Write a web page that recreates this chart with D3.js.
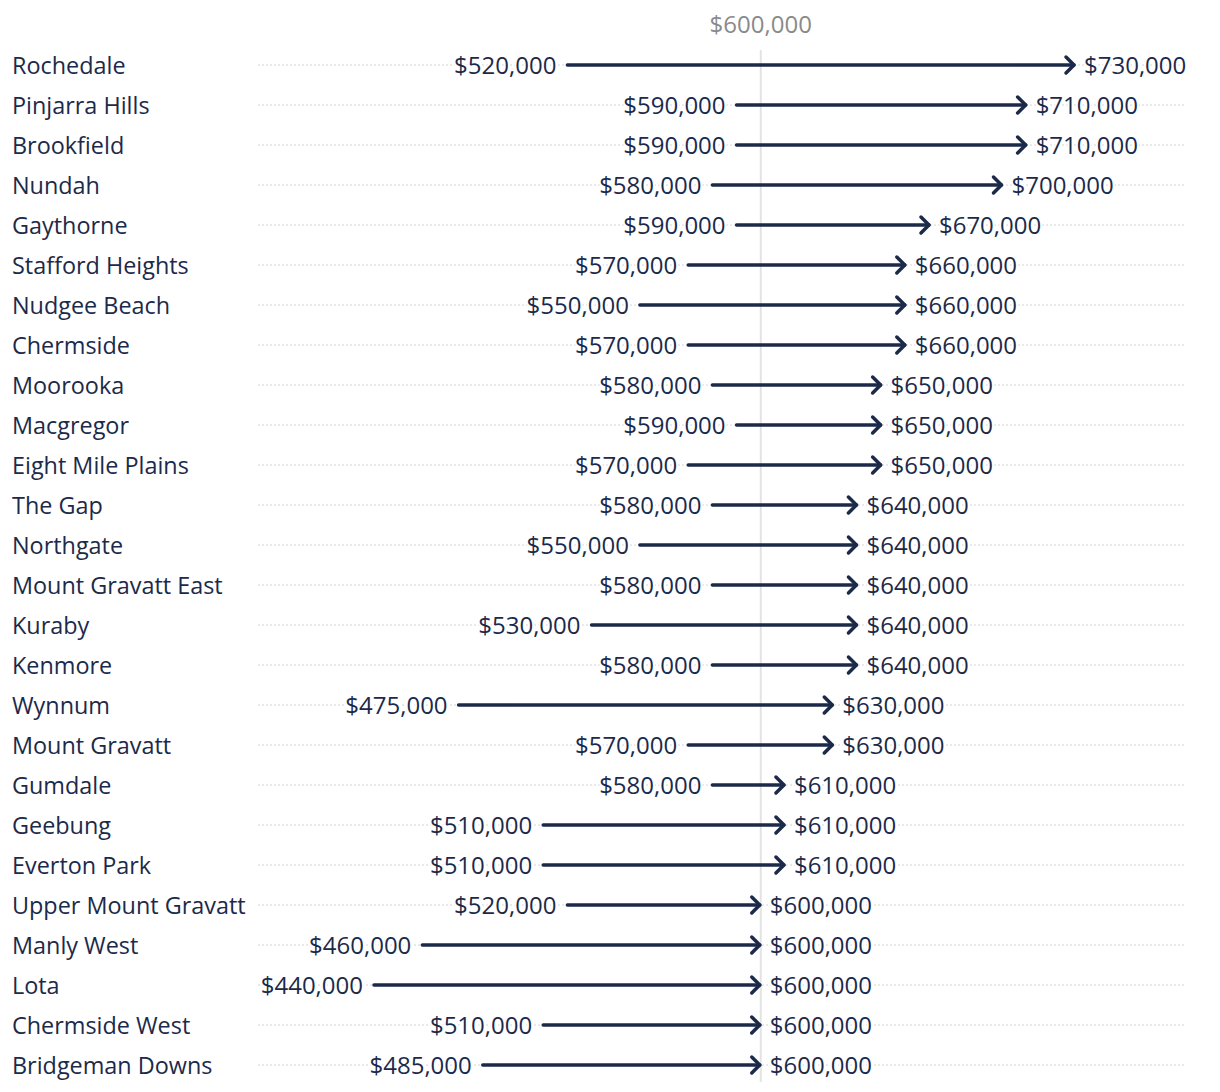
<!DOCTYPE html>
<html><head><meta charset="utf-8">
<script src="https://cdn.jsdelivr.net/npm/d3@7"></script>
<style>body{margin:0;background:#fff}svg{display:block}</style>
</head><body><svg id="c" width="1220" height="1092"></svg>
<script>
const suburbs = ["Rochedale","Pinjarra Hills","Brookfield","Nundah","Gaythorne","Stafford Heights","Nudgee Beach","Chermside","Moorooka","Macgregor","Eight Mile Plains","The Gap","Northgate","Mount Gravatt East","Kuraby","Kenmore","Wynnum","Mount Gravatt","Gumdale","Geebung","Everton Park","Upper Mount Gravatt","Manly West","Lota","Chermside West","Bridgeman Downs"];
const fromValues = [520000,590000,590000,580000,590000,570000,550000,570000,580000,590000,570000,580000,550000,580000,530000,580000,475000,570000,580000,510000,510000,520000,460000,440000,510000,485000];
const toValues = [730000,710000,710000,700000,670000,660000,660000,660000,650000,650000,650000,640000,640000,640000,640000,640000,630000,630000,610000,610000,610000,600000,600000,600000,600000,600000];
const refValue = 600000;

const data = suburbs.map((s,i)=>({name:s, from:fromValues[i], to:toValues[i]}));
const svg = d3.select("#c");
const font = "'Open Sans', sans-serif";
const navy = "#1c2a4a";
const x = d3.scaleLinear().domain([440000, 730000]).range([374, 1075]);
const y = d3.scalePoint().domain(suburbs).range([65, 1065]);
const fmt = v => "$" + d3.format(",")(v);

// gridlines
svg.append("g").selectAll("line").data(data).join("line")
  .attr("x1", 258).attr("x2", 1186)
  .attr("y1", d=>y(d.name)).attr("y2", d=>y(d.name))
  .attr("stroke", "#d4d4d4").attr("stroke-width", 1).attr("stroke-dasharray", "2,2");

// reference line
svg.append("line").attr("x1", x(refValue)).attr("x2", x(refValue)).attr("y1", 50).attr("y2", 1082)
  .attr("stroke", "#e3e3e3").attr("stroke-width", 2);
svg.append("text").attr("x", x(refValue)).attr("y", 33).attr("text-anchor","middle")
  .attr("font-family", font).attr("font-size", 24).attr("fill", "#8a8a8a").text(fmt(refValue));

// category labels
svg.append("g").selectAll("text").data(data).join("text")
  .attr("x", 12).attr("y", d=>y(d.name)+1).attr("dy", "0.35em")
  .attr("font-family", font).attr("font-size", 23.4).attr("fill", navy).text(d=>d.name);

// arrows
const g = svg.append("g");
g.selectAll("line.a").data(data).join("line").attr("class","a")
  .attr("x1", d=>x(d.from)).attr("x2", d=>x(d.to)-1)
  .attr("y1", d=>y(d.name)).attr("y2", d=>y(d.name))
  .attr("stroke", navy).attr("stroke-width", 3.5).attr("stroke-linecap","round");
g.selectAll("path.h").data(data).join("path").attr("class","h")
  .attr("d", d=>{const tx=x(d.to)-1, ty=y(d.name); return `M${tx-8},${ty-8}L${tx},${ty}L${tx-8},${ty+8}`;})
  .attr("fill","none").attr("stroke", navy).attr("stroke-width", 3.5)
  .attr("stroke-linecap","round").attr("stroke-linejoin","round");

// value labels
const lab = (sel)=>sel.attr("font-family", font).attr("font-size", 24).attr("fill", navy)
  .attr("stroke","#fff").attr("stroke-width",4).attr("paint-order","stroke").attr("dy","0.35em");
svg.append("g").selectAll("text").data(data).join("text")
  .attr("x", d=>x(d.from)-11).attr("y", d=>y(d.name)+1).attr("text-anchor","end")
  .call(lab).text(d=>fmt(d.from));
svg.append("g").selectAll("text").data(data).join("text")
  .attr("x", d=>x(d.to)+9).attr("y", d=>y(d.name)+1).attr("text-anchor","start")
  .call(lab).text(d=>fmt(d.to));
</script></body></html>
